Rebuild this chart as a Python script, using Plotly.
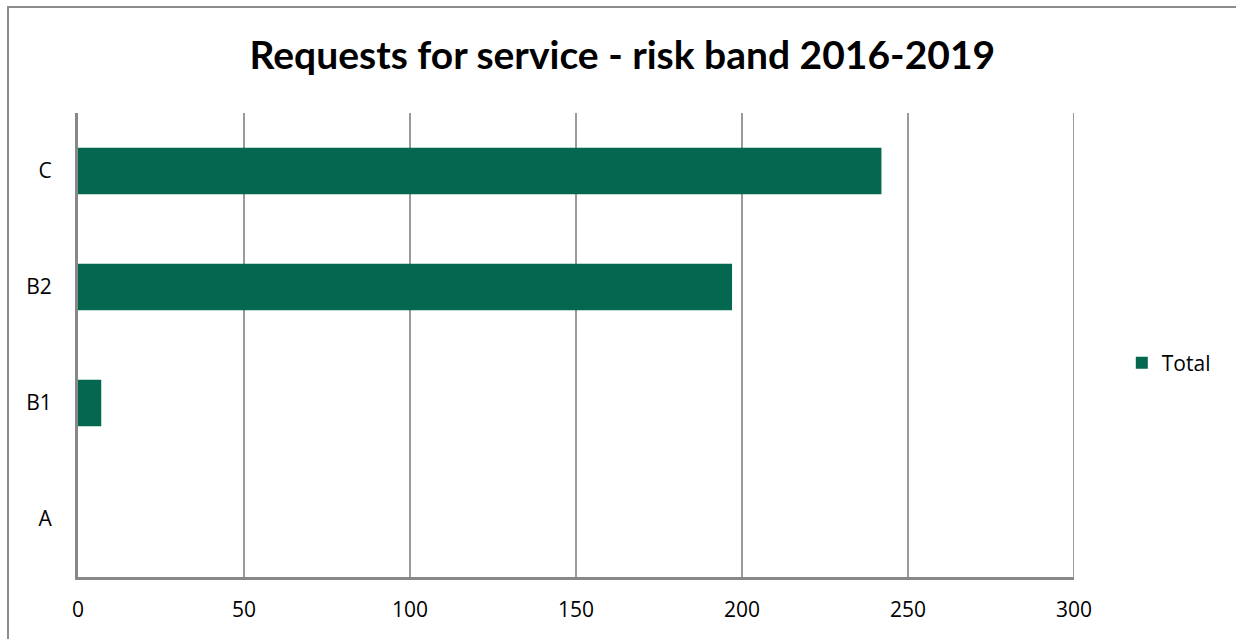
import plotly.graph_objects as go

categories = ["A", "B1", "B2", "C"]
values = [0, 7, 197, 242]
series_name = "Total"
title_text = "Requests for service - risk band 2016-2019"
x_ticks = [0, 50, 100, 150, 200, 250, 300]

fig = go.Figure()
fig.add_trace(go.Bar(
    y=categories, x=values, orientation="h", name=series_name,
    marker=dict(color="#03684F", line=dict(color="#5F9F8C", width=0)),
    showlegend=True,
))

fig.update_layout(
    width=1236, height=639,
    margin=dict(l=78, r=162, t=113, b=62),
    paper_bgcolor="white", plot_bgcolor="white",
    bargap=0.6,
    title=dict(text=title_text, x=0.5465, xref="paper", xanchor="center",
               y=1 - 55/639, yref="container", yanchor="middle",
               font=dict(family="Lato", size=39, color="black", weight="bold")),
    font=dict(family="Open Sans", size=21, color="black"),
    legend=dict(x=1.048, y=0.461, xanchor="left", yanchor="middle",
                font=dict(size=21, family="Open Sans"), itemwidth=30,
                bgcolor="rgba(0,0,0,0)"),
    xaxis=dict(range=[0, 300], tickvals=x_ticks, showgrid=True,
               gridcolor="#9A9A9A", gridwidth=2, showline=True,
               linecolor="#888888", linewidth=3, zeroline=False,
               ticks="", ticklabelstandoff=12, fixedrange=True),
    yaxis=dict(showgrid=False, showline=True, linecolor="#888888", linewidth=3,
               ticks="", ticklabelstandoff=19, zeroline=False,
               categoryorder="array", categoryarray=categories),
    shapes=[
        dict(type="rect", xref="paper", yref="paper",
             x0=(8-78)/996, x1=1.25, y0=-0.2, y1=(577-7)/464,
             line=dict(color="#8C8C8C", width=2), layer="below"),
        dict(type="line", xref="x", yref="paper", x0=300, x1=300, y0=0, y1=1,
             line=dict(color="#9A9A9A", width=2)),
    ],
)

fig.write_html("out.html")
